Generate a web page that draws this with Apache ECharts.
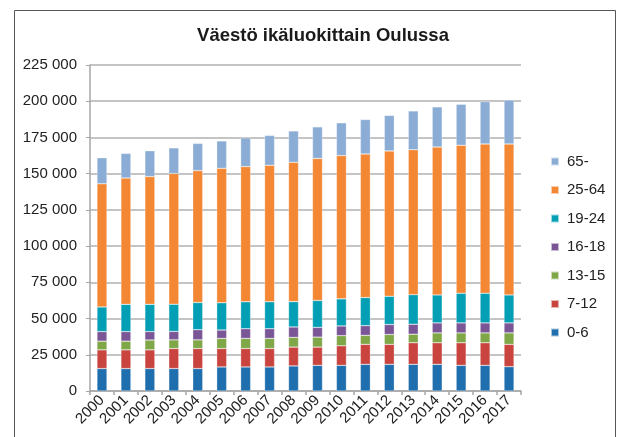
<!DOCTYPE html>
<html>
<head>
<meta charset="utf-8">
<script src="https://cdn.jsdelivr.net/npm/echarts@6/dist/echarts.min.js"></script>
<style>
  html, body { margin: 0; padding: 0; background: #fff; }
  #chart { width: 622px; height: 437px; }
</style>
</head>
<body>
<div id="chart"></div>
<script>
const years = ['2000', '2001', '2002', '2003', '2004', '2005', '2006', '2007', '2008',
    '2009', '2010', '2011', '2012', '2013', '2014', '2015', '2016', '2017'];
const age0_6 = [15500, 15500, 15500, 15500, 15500, 16600, 16600, 16600, 17300,
    17700, 17700, 18400, 18400, 18400, 18400, 17700, 17700, 16800];
const age7_12 = [12900, 12900, 12900, 13800, 13800, 12700, 12700, 12700, 13000,
    12600, 13500, 13800, 13800, 14900, 14900, 15600, 15600, 15400];
const age13_15 = [6000, 6000, 6800, 6000, 6000, 7000, 7000, 7000, 6700,
    6900, 7000, 6200, 6800, 5900, 6800, 6800, 6800, 7900];
const age16_18 = [6600, 6600, 5800, 5800, 7000, 5800, 6700, 6700, 7200,
    6700, 6700, 6700, 6900, 6900, 6900, 6900, 6900, 6900];
const age19_24 = [17000, 18800, 18800, 18800, 18800, 18800, 18600, 18600, 17500,
    18600, 18700, 19400, 19500, 20400, 19300, 20500, 20500, 19300];
const age25_64 = [85000, 87200, 88200, 90200, 91000, 92800, 93300, 94200, 96100,
    98000, 98900, 99100, 100300, 100000, 102100, 102100, 103000, 104200];
const age65 = [18000, 17000, 17800, 17700, 18800, 18900, 19800, 20600, 21700,
    21800, 22600, 23800, 24500, 26800, 27700, 28300, 29200, 30300];
const yTicks = ['0', '25 000', '50 000', '75 000', '100 000', '125 000',
    '150 000', '175 000', '200 000', '225 000'];

const groups = [
    ['0-6', age0_6, '#1f6fae'],
    ['7-12', age7_12, '#c9433f'],
    ['13-15', age13_15, '#7fa647'],
    ['16-18', age16_18, '#7b5697'],
    ['19-24', age19_24, '#049fb5'],
    ['25-64', age25_64, '#f38733'],
    ['65-', age65, '#8badd5']
];

const chart = echarts.init(document.getElementById('chart'));
chart.setOption({
    animation: false,
    textStyle: { fontFamily: 'Liberation Sans, Arial, sans-serif' },
    title: {
        text: 'Väestö ikäluokittain Oulussa',
        left: 318, top: 21, textAlign: 'center',
        textStyle: { fontSize: 18.5, fontWeight: 'bold', color: '#1a1a1a', fontFamily: 'Liberation Sans' }
    },
    graphic: [{
        type: 'rect',
        shape: { x: 14.5, y: 10.5, width: 601, height: 440 },
        style: { fill: 'none', stroke: '#555', lineWidth: 1 },
        silent: true
    }],
    legend: {
        orient: 'vertical',
        left: 545, top: 149,
        itemWidth: 8, itemHeight: 8, itemGap: 13.5,
        icon: 'rect',
        data: groups.map(g => g[0]).reverse(),
        textStyle: { fontSize: 15, color: '#222', padding: [0, 0, 0, 3] }
    },
    grid: { left: 90, right: 101, top: 65, bottom: 46 },
    xAxis: {
        type: 'category',
        data: years,
        axisLine: { lineStyle: { color: '#a6a6a6', width: 1.5 } },
        axisTick: { show: true, length: 4, lineStyle: { color: '#a6a6a6', width: 1.5 } },
        axisLabel: { rotate: 45, fontSize: 15, color: '#222', margin: 7, interval: 0 }
    },
    yAxis: {
        type: 'value',
        min: 0, max: 225000, interval: 25000,
        axisLine: { show: true, lineStyle: { color: '#a6a6a6', width: 1.5 } },
        axisTick: { show: true, length: 4, lineStyle: { color: '#a6a6a6' } },
        splitLine: { lineStyle: { color: '#b0b0b0', width: 1.5 } },
        axisLabel: {
            fontSize: 15, color: '#222', margin: 13,
            formatter: v => yTicks[Math.round(v / 25000)]
        }
    },
    series: groups.map(g => ({
        name: g[0],
        type: 'bar',
        stack: 'total',
        barWidth: 10,
        data: g[1],
        itemStyle: { color: g[2], borderColor: 'rgba(255,255,255,0.6)', borderWidth: 0.5 }
    }))
});
</script>
</body>
</html>
